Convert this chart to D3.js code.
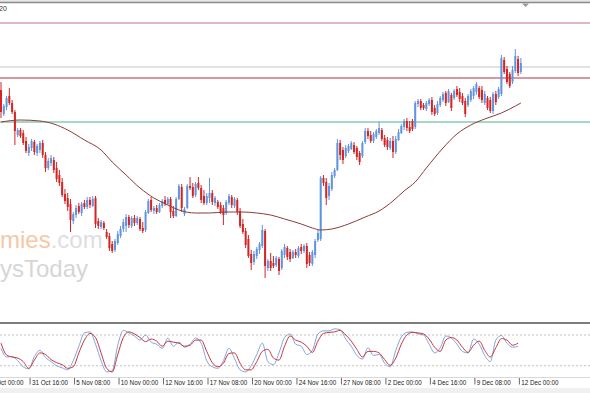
<!DOCTYPE html>
<html>
<head>
<meta charset="utf-8">
<script src="https://cdnjs.cloudflare.com/ajax/libs/d3/7.8.5/d3.min.js"></script>
<style>
body { margin: 0; background: #fff; }
svg { display: block; }
</style>
</head>
<body>
<svg id="chart"></svg>
<script>
// H4 candles [open, high, low, close], oldest first, last bar = 12 Dec 00:00
var candles = [
[1.2230,1.2238,1.2202,1.2208],[1.2206,1.2216,1.2204,1.2214],[1.2213,1.2224,1.2210,1.2222],[1.2224,1.2232,1.2215,1.2217],
[1.2217,1.2220,1.2206,1.2208],[1.2208,1.2210,1.2175,1.2189],[1.2185,1.2192,1.2183,1.2190],[1.2190,1.2192,1.2182,1.2184],
[1.2187,1.2190,1.2175,1.2177],[1.2179,1.2183,1.2167,1.2169],[1.2167,1.2176,1.2164,1.2173],[1.2172,1.2181,1.2169,1.2179],
[1.2178,1.2180,1.2165,1.2168],[1.2167,1.2176,1.2164,1.2174],[1.2170,1.2179,1.2167,1.2177],[1.2177,1.2180,1.2162,1.2165],
[1.2165,1.2168,1.2148,1.2152],[1.2152,1.2162,1.2150,1.2159],[1.2157,1.2165,1.2154,1.2162],[1.2160,1.2163,1.2147,1.2150],
[1.2152,1.2158,1.2138,1.2141],[1.2145,1.2150,1.2134,1.2137],[1.2138,1.2142,1.2123,1.2125],[1.2126,1.2131,1.2116,1.2119],
[1.2122,1.2127,1.2109,1.2113],[1.2116,1.2121,1.2088,1.2100],[1.2099,1.2108,1.2096,1.2106],[1.2105,1.2115,1.2102,1.2112],
[1.2114,1.2117,1.2106,1.2108],[1.2107,1.2118,1.2104,1.2116],[1.2117,1.2120,1.2111,1.2113],[1.2113,1.2123,1.2111,1.2120],
[1.2120,1.2123,1.2112,1.2115],[1.2114,1.2124,1.2113,1.2121],[1.2122,1.2124,1.2092,1.2096],[1.2099,1.2102,1.2091,1.2094],
[1.2093,1.2100,1.2091,1.2098],[1.2097,1.2099,1.2090,1.2092],[1.2088,1.2091,1.2081,1.2083],[1.2084,1.2087,1.2069,1.2072],
[1.2076,1.2079,1.2067,1.2069],[1.2070,1.2081,1.2068,1.2079],[1.2077,1.2089,1.2075,1.2086],[1.2084,1.2094,1.2082,1.2091],
[1.2091,1.2101,1.2088,1.2098],[1.2094,1.2106,1.2088,1.2103],[1.2103,1.2105,1.2092,1.2095],[1.2094,1.2104,1.2092,1.2102],
[1.2102,1.2105,1.2094,1.2097],[1.2097,1.2104,1.2095,1.2102],[1.2101,1.2103,1.2089,1.2091],[1.2092,1.2098,1.2087,1.2089],
[1.2090,1.2110,1.2088,1.2108],[1.2107,1.2121,1.2106,1.2119],[1.2120,1.2123,1.2108,1.2110],[1.2109,1.2114,1.2106,1.2112],
[1.2112,1.2115,1.2106,1.2108],[1.2108,1.2117,1.2107,1.2115],[1.2114,1.2121,1.2112,1.2119],[1.2120,1.2124,1.2114,1.2116],
[1.2116,1.2123,1.2115,1.2121],[1.2121,1.2123,1.2102,1.2108],[1.2109,1.2114,1.2102,1.2104],[1.2104,1.2123,1.2103,1.2121],
[1.2121,1.2136,1.2120,1.2134],[1.2133,1.2136,1.2108,1.2112],[1.2106,1.2113,1.2104,1.2111],[1.2112,1.2136,1.2111,1.2134],
[1.2134,1.2143,1.2130,1.2132],[1.2133,1.2137,1.2122,1.2124],[1.2125,1.2138,1.2123,1.2136],[1.2137,1.2143,1.2130,1.2132],
[1.2132,1.2135,1.2117,1.2120],[1.2124,1.2130,1.2115,1.2117],[1.2117,1.2127,1.2115,1.2124],[1.2122,1.2142,1.2117,1.2127],
[1.2127,1.2130,1.2115,1.2118],[1.2117,1.2124,1.2114,1.2122],[1.2118,1.2120,1.2111,1.2113],[1.2115,1.2118,1.2106,1.2108],
[1.2112,1.2115,1.2095,1.2105],[1.2107,1.2120,1.2105,1.2118],[1.2117,1.2126,1.2115,1.2124],[1.2123,1.2125,1.2112,1.2115],
[1.2114,1.2123,1.2112,1.2121],[1.2120,1.2122,1.2105,1.2108],[1.2109,1.2112,1.2092,1.2094],[1.2096,1.2101,1.2086,1.2088],
[1.2089,1.2092,1.2072,1.2075],[1.2081,1.2085,1.2062,1.2064],[1.2066,1.2070,1.2050,1.2057],[1.2058,1.2069,1.2055,1.2066],
[1.2064,1.2073,1.2061,1.2071],[1.2070,1.2078,1.2066,1.2076],[1.2074,1.2095,1.2072,1.2090],[1.2089,1.2091,1.2042,1.2054],
[1.2052,1.2061,1.2049,1.2059],[1.2059,1.2067,1.2049,1.2052],[1.2057,1.2064,1.2052,1.2054],[1.2055,1.2064,1.2053,1.2062],
[1.2061,1.2063,1.2045,1.2049],[1.2052,1.2071,1.2050,1.2069],[1.2065,1.2076,1.2062,1.2073],[1.2072,1.2074,1.2060,1.2063],
[1.2068,1.2071,1.2058,1.2061],[1.2062,1.2070,1.2061,1.2068],[1.2068,1.2071,1.2062,1.2065],[1.2064,1.2074,1.2062,1.2072],
[1.2073,1.2076,1.2066,1.2069],[1.2069,1.2076,1.2067,1.2074],[1.2074,1.2077,1.2052,1.2056],[1.2065,1.2068,1.2054,1.2057],
[1.2056,1.2070,1.2054,1.2068],[1.2065,1.2081,1.2062,1.2079],[1.2080,1.2090,1.2078,1.2087],[1.2081,1.2144,1.2079,1.2142],
[1.2142,1.2145,1.2134,1.2137],[1.2138,1.2142,1.2115,1.2122],[1.2124,1.2137,1.2120,1.2134],[1.2131,1.2148,1.2129,1.2145],
[1.2144,1.2152,1.2142,1.2150],[1.2150,1.2181,1.2149,1.2177],[1.2177,1.2180,1.2160,1.2165],[1.2170,1.2173,1.2156,1.2160],
[1.2164,1.2175,1.2162,1.2172],[1.2169,1.2176,1.2167,1.2174],[1.2171,1.2179,1.2170,1.2177],[1.2175,1.2178,1.2166,1.2168],
[1.2172,1.2174,1.2160,1.2163],[1.2167,1.2169,1.2155,1.2158],[1.2164,1.2179,1.2162,1.2177],[1.2178,1.2192,1.2176,1.2189],
[1.2189,1.2192,1.2181,1.2184],[1.2185,1.2189,1.2177,1.2179],[1.2179,1.2188,1.2177,1.2186],[1.2183,1.2191,1.2181,1.2189],
[1.2187,1.2198,1.2185,1.2192],[1.2190,1.2192,1.2179,1.2181],[1.2182,1.2185,1.2173,1.2175],[1.2180,1.2183,1.2170,1.2173],
[1.2172,1.2182,1.2170,1.2179],[1.2179,1.2184,1.2162,1.2168],[1.2168,1.2184,1.2166,1.2181],[1.2180,1.2191,1.2179,1.2188],
[1.2187,1.2196,1.2186,1.2194],[1.2193,1.2201,1.2190,1.2199],[1.2199,1.2202,1.2189,1.2192],[1.2193,1.2199,1.2187,1.2189],
[1.2199,1.2201,1.2189,1.2191],[1.2193,1.2219,1.2191,1.2217],[1.2216,1.2221,1.2213,1.2219],[1.2219,1.2221,1.2210,1.2212],
[1.2215,1.2217,1.2210,1.2212],[1.2211,1.2219,1.2209,1.2217],[1.2216,1.2222,1.2214,1.2220],[1.2220,1.2223,1.2205,1.2208],
[1.2212,1.2215,1.2204,1.2206],[1.2207,1.2219,1.2205,1.2216],[1.2215,1.2224,1.2213,1.2222],[1.2220,1.2228,1.2218,1.2226],
[1.2227,1.2229,1.2214,1.2217],[1.2218,1.2231,1.2217,1.2229],[1.2225,1.2227,1.2209,1.2212],[1.2222,1.2231,1.2220,1.2229],
[1.2231,1.2234,1.2223,1.2225],[1.2228,1.2232,1.2218,1.2221],[1.2224,1.2227,1.2215,1.2217],[1.2219,1.2222,1.2203,1.2206],
[1.2215,1.2226,1.2213,1.2224],[1.2220,1.2231,1.2218,1.2229],[1.2224,1.2234,1.2221,1.2232],[1.2228,1.2238,1.2225,1.2236],
[1.2232,1.2234,1.2221,1.2223],[1.2230,1.2234,1.2217,1.2220],[1.2217,1.2229,1.2215,1.2226],[1.2222,1.2224,1.2210,1.2212],
[1.2220,1.2223,1.2207,1.2209],[1.2209,1.2228,1.2206,1.2226],[1.2226,1.2229,1.2215,1.2218],[1.2223,1.2233,1.2221,1.2231],
[1.2226,1.2265,1.2224,1.2262],[1.2260,1.2263,1.2246,1.2248],[1.2251,1.2254,1.2236,1.2238],[1.2246,1.2248,1.2232,1.2234],
[1.2238,1.2254,1.2236,1.2250],[1.2249,1.2271,1.2247,1.2264],[1.2261,1.2264,1.2244,1.2247],[1.2248,1.2262,1.2246,1.2257]
];

// moving average, read at these bars
var maBars = [0, 7, 14, 19, 24, 30, 36, 40, 45, 50, 55, 60, 64, 70, 75, 81, 87, 92, 97, 102, 108, 112, 115, 119,
              125, 131, 136, 141, 145, 149, 153, 159, 164, 169, 174, 180, 183, 187];
var maValues = [1.2198, 1.2200, 1.2199, 1.2196, 1.2190, 1.2180, 1.2170, 1.2158, 1.2145, 1.2132, 1.2122, 1.2115,
                1.2110, 1.2107, 1.2107, 1.2108, 1.2108, 1.2107, 1.2105, 1.2101, 1.2096, 1.2092, 1.2090, 1.2091,
                1.2096, 1.2103, 1.2109, 1.2119, 1.2129, 1.2138, 1.2152, 1.2172, 1.2186, 1.2195, 1.2201, 1.2207,
                1.2211, 1.2217];

// horizontal lines on the price chart
var levelPrices = [1.2297, 1.2253, 1.2242, 1.2198];
var levelColors = ["#bf7580", "#c4c4c4", "#b03545", "#a3d9c5"];
var levelWidths = [1, 1, 1.2, 2];

// stochastic, every second bar
var stochK = [54,37,38,30,18,14,38,50,36,28, 20,16,12,30,58,84,86,62,30,8, 10,60,89,84,78,70,80,66,62,54,
              74,58,66,56,62,74,64,30,18,15, 30,54,34,12,8,20,42,64,28,22, 45,75,82,62,58,42,50,82,88,88,
              92,90,72,58,40,33,55,40,42,25, 18,50,76,85,86,82,80,62,45,55, 78,74,62,48,45,72,62,40,28,70,
              79,64,56,58];
var stochD = [64,41,37,35,28,15,31,45,42,32, 26,22,15,18,45,70,83,75,45,15, 8,42,75,86,82,75,67,72,68,58,
              68,66,64,58,60,70,70,48,26,18, 25,44,45,25,12,12,28,48,52,35, 31,58,78,70,66,58,46,68,83,85,
              86,89,80,68,52,37,48,48,45,32, 21,35,62,80,85,84,82,72,56,48, 70,75,70,56,46,60,68,50,37,55,
              73,70,60,64];
var stochLevels = [80, 20];

var tickBars = [-5, 11, 27, 43, 59, 75, 91, 107, 123, 139, 155, 171, 187];
var tickLabels = ["29 Oct 00:00", "31 Oct 16:00", "5 Nov 08:00", "10 Nov 00:00", "12 Nov 16:00", "17 Nov 08:00",
                  "20 Nov 00:00", "24 Nov 16:00", "27 Nov 08:00", "2 Dec 00:00", "4 Dec 16:00", "9 Dec 08:00",
                  "12 Dec 00:00"];

var width = 590,
    height = 393,
    upColor = "#5f94df",
    downColor = "#d42525";

var svg = d3.select("#chart")
    .attr("width", width)
    .attr("height", height)
    .style("font-family", "'Liberation Sans', Arial, sans-serif");

var x = d3.scaleLinear().domain([0, candles.length - 1]).range([1, 1 + 2.78 * (candles.length - 1)]);
var y = d3.scaleLinear().domain([1.2000, 1.2320]).range([320, 0]);
var ys = d3.scaleLinear().domain([0, 100]).range([376, 324.7]);

svg.append("defs").append("clipPath").attr("id", "main")
    .append("rect").attr("x", 0).attr("y", 4).attr("width", width).attr("height", 317);

// watermark (left part is outside the picture)
var wm = svg.append("g").attr("font-family", "'Liberation Sans', Arial, sans-serif");
var t1 = wm.append("text").attr("x", 0).attr("y", 248).attr("font-size", 24);
t1.append("tspan").attr("fill", "#f5c8a6").text("mies");
t1.append("tspan").attr("fill", "#dedede").text(".com");
wm.append("text").attr("x", 0).attr("y", 277).attr("font-size", 24)
    .attr("fill", "#d6d6d6").text("ysToday");

// frame lines
svg.append("rect").attr("x", 0).attr("y", 0).attr("width", width).attr("height", 2).attr("fill", "#e6e6e6");
svg.append("line").attr("x1", 0).attr("x2", width).attr("y1", 2.5).attr("y2", 2.5)
    .attr("stroke", "#8a8a8a").attr("stroke-width", 1.5);
svg.append("path").attr("d", "M522,3.5L529,3.5L525.5,7Z").attr("fill", "#9a9a9a");
svg.append("text").attr("x", -1).attr("y", 11).attr("font-size", 7).attr("fill", "#333").text("20");

var main = svg.append("g").attr("clip-path", "url(#main)");

main.selectAll("line.level")
    .data(levelPrices)
    .enter().append("line")
    .attr("class", "level")
    .attr("x1", 0).attr("x2", width)
    .attr("y1", function(d) { return y(d); })
    .attr("y2", function(d) { return y(d); })
    .attr("stroke", function(d, i) { return levelColors[i]; })
    .attr("stroke-width", function(d, i) { return levelWidths[i]; });

var candle = main.selectAll("g.candle")
    .data(candles)
    .enter().append("g")
    .attr("class", "candle");

candle.append("line")
    .attr("x1", function(d, i) { return x(i); })
    .attr("x2", function(d, i) { return x(i); })
    .attr("y1", function(d) { return y(d[1]); })
    .attr("y2", function(d) { return y(d[2]); })
    .attr("stroke", function(d) { return d[3] >= d[0] ? upColor : downColor; })
    .attr("stroke-width", 1);

candle.append("rect")
    .attr("x", function(d, i) { return x(i) - 1; })
    .attr("width", 2)
    .attr("y", function(d) { return y(Math.max(d[0], d[3])); })
    .attr("height", function(d) { return Math.max(1, Math.abs(y(d[0]) - y(d[3]))); })
    .attr("fill", function(d) { return d[3] >= d[0] ? upColor : downColor; });

var maLine = d3.line()
    .x(function(d, i) { return x(maBars[i]); })
    .y(function(d) { return y(d); })
    .curve(d3.curveMonotoneX);

main.append("path")
    .attr("d", maLine(maValues))
    .attr("fill", "none")
    .attr("stroke", "#8c3a3a")
    .attr("stroke-width", 1);

// indicator window
svg.append("line").attr("x1", 0).attr("x2", width).attr("y1", 323).attr("y2", 323)
    .attr("stroke", "#7d7d7d").attr("stroke-width", 2);

svg.selectAll("line.slevel")
    .data(stochLevels)
    .enter().append("line")
    .attr("class", "slevel")
    .attr("x1", 0).attr("x2", width)
    .attr("y1", function(d) { return ys(d); })
    .attr("y2", function(d) { return ys(d); })
    .attr("stroke", "#c2c2c2")
    .attr("stroke-dasharray", "2,2");

var stochLine = d3.line()
    .x(function(d, i) { return x(i * 2); })
    .y(function(d) { return ys(d); })
    .curve(d3.curveMonotoneX);

svg.append("path").attr("d", stochLine(stochK))
    .attr("fill", "none").attr("stroke", "#7ea6dc").attr("stroke-width", 1);
svg.append("path").attr("d", stochLine(stochD))
    .attr("fill", "none").attr("stroke", "#c9343c").attr("stroke-width", 1);

// time axis
svg.append("line").attr("x1", 0).attr("x2", width).attr("y1", 377.5).attr("y2", 377.5)
    .attr("stroke", "#d8d8d8").attr("stroke-width", 1);
svg.append("rect").attr("x", 0).attr("y", 388).attr("width", width).attr("height", 5).attr("fill", "#f0f0f0");

var tick = svg.selectAll("g.tick")
    .data(tickBars)
    .enter().append("g")
    .attr("class", "tick")
    .attr("transform", function(d) { return "translate(" + (x(d) - 1.5) + ",0)"; });

tick.append("line")
    .attr("y1", 378).attr("y2", 384.5)
    .attr("stroke", "#444").attr("stroke-width", 0.8);

tick.append("text")
    .attr("x", 1.8).attr("y", 385)
    .attr("font-size", 6.3)
    .attr("fill", "#222")
    .text(function(d, i) { return tickLabels[i]; });
</script>
</body>
</html>
